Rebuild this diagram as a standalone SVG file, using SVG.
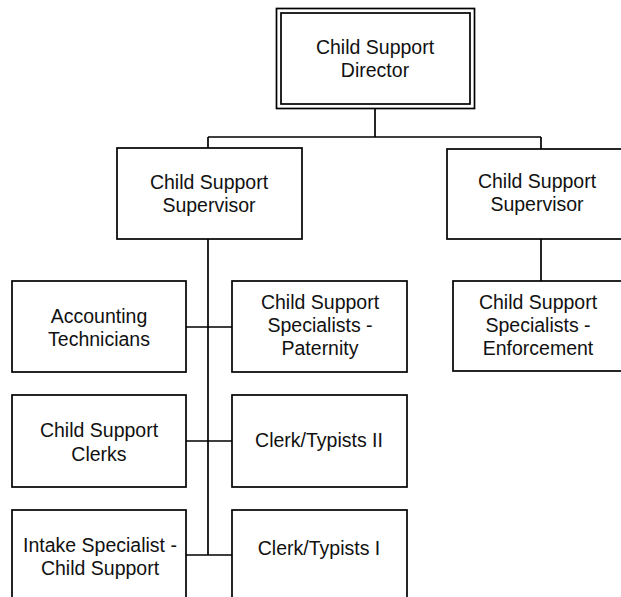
<svg xmlns="http://www.w3.org/2000/svg" width="621" height="597" viewBox="0 0 621 597">
<style>
.box{fill:#fff;stroke:#000;stroke-width:1.7}
.ln{fill:none;stroke:#000;stroke-width:1.7}
text{font-family:"Liberation Sans",Arial,sans-serif;font-size:19.5px;fill:#111;text-anchor:middle}
</style>
<rect width="621" height="597" fill="#fff"/>
<g id="connectors">
<path class="ln" d="M375 108V137M208 137H541M208 137V148M541 137V149M208 239V555M541 239V281M186 327H232M186 441H232M186 555H232"/>
</g>
<g id="director">
<rect class="box" x="276.5" y="8.5" width="198" height="100"/>
<rect class="box" x="281" y="13" width="189" height="91"/>
<text x="375" y="54">Child Support</text>
<text x="375" y="77">Director</text>
</g>
<g id="supervisor-left">
<rect class="box" x="117" y="148" width="185" height="91"/>
<text x="209" y="189">Child Support</text>
<text x="209" y="212">Supervisor</text>
</g>
<g id="supervisor-right">
<rect class="box" x="447" y="149" width="180" height="90"/>
<text x="537" y="188">Child Support</text>
<text x="537" y="211">Supervisor</text>
</g>
<g id="enforcement">
<rect class="box" x="453" y="281" width="180" height="90"/>
<text x="538" y="309">Child Support</text>
<text x="538" y="332">Specialists -</text>
<text x="538" y="355">Enforcement</text>
</g>
<g id="accounting">
<rect class="box" x="12" y="281" width="174" height="91"/>
<text x="99" y="323">Accounting</text>
<text x="99" y="346">Technicians</text>
</g>
<g id="paternity">
<rect class="box" x="232" y="281" width="175" height="91"/>
<text x="320" y="309">Child Support</text>
<text x="320" y="332">Specialists -</text>
<text x="320" y="355">Paternity</text>
</g>
<g id="clerks">
<rect class="box" x="12" y="395" width="174" height="92"/>
<text x="99" y="437">Child Support</text>
<text x="99" y="461">Clerks</text>
</g>
<g id="typists2">
<rect class="box" x="232" y="395" width="175" height="92"/>
<text x="319" y="447">Clerk/Typists II</text>
</g>
<g id="intake">
<rect class="box" x="12" y="510" width="174" height="100"/>
<text x="100" y="552">Intake Specialist -</text>
<text x="100" y="575">Child Support</text>
</g>
<g id="typists1">
<rect class="box" x="232" y="510" width="175" height="100"/>
<text x="319" y="555">Clerk/Typists I</text>
</g>
</svg>
